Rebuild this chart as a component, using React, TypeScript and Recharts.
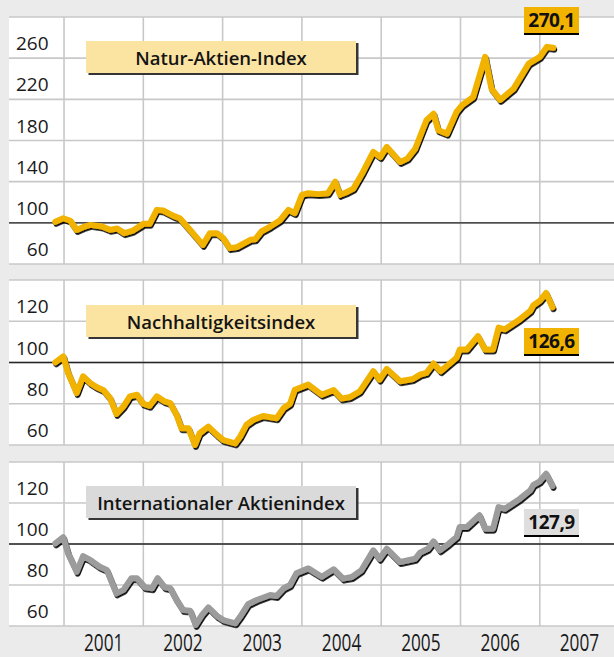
import React from 'react';
import { LineChart, Line, XAxis, YAxis, CartesianGrid, ReferenceLine } from 'recharts';

// year boundaries (grid) and mid-year label positions
const yearStarts = [2001, 2002, 2003, 2004, 2005, 2006, 2007];
const yearMids = [2001.5, 2002.5, 2003.5, 2004.5, 2005.5, 2006.5, 2007.5];

const naturDates = [2000.89, 2000.99, 2001.08, 2001.16, 2001.24, 2001.33, 2001.48, 2001.58, 2001.67, 2001.76, 2001.87, 2002.0, 2002.08, 2002.17, 2002.25, 2002.38, 2002.46, 2002.59, 2002.75, 2002.84, 2002.93, 2003.01, 2003.09, 2003.18, 2003.35, 2003.41, 2003.49, 2003.6, 2003.72, 2003.83, 2003.91, 2004.0, 2004.08, 2004.21, 2004.33, 2004.42, 2004.48, 2004.57, 2004.65, 2004.77, 2004.9, 2004.99, 2005.07, 2005.24, 2005.33, 2005.43, 2005.57, 2005.66, 2005.72, 2005.83, 2005.95, 2006.02, 2006.16, 2006.31, 2006.39, 2006.5, 2006.67, 2006.86, 2007.0, 2007.09, 2007.17];
const naturValues = [101, 104.5, 102, 93, 95.8, 98, 96.4, 93.2, 94.5, 90, 92.5, 99, 99, 112.6, 112, 106.8, 104.5, 93, 78.6, 90, 90, 85, 75.4, 76.4, 83.5, 84, 91.6, 96.4, 102.2, 112.6, 109.4, 127.2, 128.8, 127.9, 128.8, 140, 127.2, 130, 133.3, 149.5, 169, 164, 173.8, 159.2, 162.4, 172.2, 199.7, 206, 190, 186.7, 207.8, 214.3, 222.3, 261.2, 230.4, 219.4, 230.4, 254.7, 261.2, 271, 270.1];
const naturTicks = [60, 100, 140, 180, 220, 260];

const nachDates = [2000.89, 2000.99, 2001.05, 2001.16, 2001.24, 2001.33, 2001.41, 2001.5, 2001.58, 2001.66, 2001.75, 2001.83, 2001.92, 2002.0, 2002.08, 2002.17, 2002.27, 2002.34, 2002.42, 2002.48, 2002.57, 2002.65, 2002.71, 2002.82, 2002.93, 2003.01, 2003.16, 2003.22, 2003.3, 2003.39, 2003.51, 2003.68, 2003.77, 2003.85, 2003.91, 2004.08, 2004.25, 2004.4, 2004.5, 2004.61, 2004.73, 2004.9, 2004.98, 2005.07, 2005.24, 2005.4, 2005.49, 2005.57, 2005.66, 2005.75, 2005.85, 2005.95, 2005.99, 2006.08, 2006.22, 2006.31, 2006.41, 2006.48, 2006.56, 2006.75, 2006.88, 2006.92, 2007.0, 2007.08, 2007.16];
const nachValues = [100.1, 103, 95, 85.2, 93.3, 90.1, 88.1, 86.5, 82.8, 75.1, 78.7, 83.6, 84.4, 80, 79, 83.6, 81.1, 80.3, 74.6, 68.1, 68.1, 60, 65.7, 68.9, 64.9, 62.4, 60.8, 64, 69.8, 72.2, 74.1, 73, 77.9, 80, 86.8, 89.3, 84.4, 86.7, 82.5, 83.3, 86, 95.8, 91.7, 96.9, 90.9, 92, 94.1, 95, 99.5, 95.8, 99, 102.3, 106.3, 106.3, 112.8, 106.3, 106.3, 116.9, 116.1, 121, 125, 127.8, 129.9, 133.7, 126.8];

const intlDates = [2000.89, 2000.99, 2001.05, 2001.16, 2001.24, 2001.33, 2001.45, 2001.54, 2001.66, 2001.75, 2001.85, 2001.92, 2002.02, 2002.11, 2002.18, 2002.27, 2002.34, 2002.42, 2002.5, 2002.59, 2002.66, 2002.74, 2002.82, 2002.93, 2003.01, 2003.16, 2003.22, 2003.32, 2003.43, 2003.6, 2003.68, 2003.77, 2003.85, 2003.93, 2004.08, 2004.25, 2004.4, 2004.52, 2004.63, 2004.75, 2004.9, 2004.98, 2005.07, 2005.24, 2005.43, 2005.49, 2005.59, 2005.66, 2005.74, 2005.85, 2005.95, 2005.99, 2006.08, 2006.24, 2006.31, 2006.41, 2006.48, 2006.56, 2006.75, 2006.88, 2006.92, 2007.0, 2007.08, 2007.16];
const intlValues = [100.3, 103.3, 95.5, 86.5, 94.1, 92.2, 88.9, 87.3, 75.9, 77.6, 83.3, 83.3, 78.9, 78.4, 83.3, 78.9, 78.4, 72.7, 67.8, 67.5, 60.5, 65.4, 69.1, 64.9, 62.9, 61.3, 64.5, 70.6, 72.7, 75.1, 74.6, 78.4, 80, 85.7, 88.1, 84, 87.7, 83.1, 83.9, 87.2, 96.9, 92.8, 97.7, 91.2, 92.8, 95.8, 97.7, 101.3, 96.9, 100.1, 103.4, 108.3, 108.3, 114, 107.5, 107.5, 118, 117.2, 122.1, 126.2, 128.9, 130.6, 134.3, 128.3];
const smallTicks = [60, 80, 100, 120];

const toRows = (dates: number[], values: number[]) => dates.map((t, i) => ({ t, v: values[i] }));

const X_DOMAIN = [2000.306, 2007.936];
const ORANGE = '#f2b300';
const GRAY_LINE = '#9c9c9c';

const ValueTick = (props: any) => {
  const { y, payload } = props;
  return (
    <text x={48.5} y={y - 8} textAnchor="end" fontFamily="Open Sans" fontSize={19} fill="#1a1a1a">
      {payload.value}
    </text>
  );
};

const YearTick = (props: any) => {
  const { x, y, payload } = props;
  return (
    <text
      transform={`translate(${x},${y + 17}) scale(0.75,1)`}
      textAnchor="middle"
      fontFamily="Open Sans"
      fontSize={23}
      fill="#1a1a1a"
    >
      {String(Math.floor(payload.value))}
    </text>
  );
};

function Panel({ data, color, ticks, domain, height, margin, showX }: any) {
  return (
    <LineChart width={614} height={height} data={data} margin={margin}>
      <CartesianGrid fill="#fff" stroke="#c8c8c8" strokeWidth={1.6} verticalValues={yearStarts} />
      <XAxis
        dataKey="t"
        type="number"
        domain={X_DOMAIN}
        ticks={yearMids}
        interval={0}
        hide={!showX}
        height={31}
        axisLine={false}
        tickLine={false}
        tick={<YearTick />}
      />
      <YAxis type="number" domain={domain} ticks={ticks} interval={0} mirror axisLine={false} tickLine={false} tick={<ValueTick />} />
      <ReferenceLine y={100} stroke="#262626" strokeWidth={1.4} />
      <Line
        type="linear"
        dataKey="v"
        stroke={color}
        strokeWidth={6}
        strokeLinejoin="round"
        strokeLinecap="round"
        dot={false}
        activeDot={false}
        filter="url(#lineShadow)"
        isAnimationActive={false}
      />
    </LineChart>
  );
}

const titleBox = (top: number, bg: string): React.CSSProperties => ({
  position: 'absolute',
  left: 86,
  top,
  width: 270,
  height: 32,
  background: bg,
  boxShadow: '2.5px 2px 0 #353535',
  display: 'flex',
  alignItems: 'center',
  justifyContent: 'center',
  fontFamily: 'Open Sans',
  fontWeight: 600,
  fontSize: 18.5,
  color: '#141414',
});

const valueBox = (top: number, bg: string): React.CSSProperties => ({
  position: 'absolute',
  left: 524,
  top,
  width: 55,
  height: 26,
  background: bg,
  borderBottom: '2px solid #000',
  display: 'flex',
  alignItems: 'center',
  justifyContent: 'center',
  fontFamily: 'Open Sans',
  fontWeight: 700,
  fontSize: 19,
  letterSpacing: -0.5,
  color: '#111',
});

export default function App() {
  return (
    <div style={{ position: 'absolute', left: 0, top: 0, width: 614, height: 657, background: '#ebebeb', overflow: 'hidden' }}>
      <svg width={0} height={0} style={{ position: 'absolute' }}>
        <defs>
          <filter id="lineShadow" x="-5%" y="-10%" width="110%" height="130%">
            <feDropShadow dx={1} dy={1.8} stdDeviation={0.35} floodColor="#000" floodOpacity={0.95} />
          </filter>
        </defs>
      </svg>

      <div style={{ position: 'absolute', left: 0, top: 0 }}>
        <Panel
          data={toRows(naturDates, naturValues)}
          color={ORANGE}
          ticks={naturTicks}
          domain={[60, 300]}
          height={272}
          margin={{ top: 17, right: 0, bottom: 8, left: 9 }}
          showX={false}
        />
      </div>
      <div style={{ position: 'absolute', left: 0, top: 272 }}>
        <Panel
          data={toRows(nachDates, nachValues)}
          color={ORANGE}
          ticks={smallTicks}
          domain={[60, 140]}
          height={180}
          margin={{ top: 8, right: 0, bottom: 7, left: 9 }}
          showX={false}
        />
      </div>
      <div style={{ position: 'absolute', left: 0, top: 452 }}>
        <Panel
          data={toRows(intlDates, intlValues)}
          color={GRAY_LINE}
          ticks={smallTicks}
          domain={[60, 140]}
          height={205}
          margin={{ top: 10, right: 0, bottom: 0, left: 9 }}
          showX
        />
      </div>

      <div style={titleBox(41, '#fbe3a2')}>Natur-Aktien-Index</div>
      <div style={titleBox(305, '#fbe3a2')}>Nachhaltigkeitsindex</div>
      <div style={titleBox(486, '#dadada')}>Internationaler Aktienindex</div>

      <div style={valueBox(7, ORANGE)}>270,1</div>
      <div style={valueBox(328, ORANGE)}>126,6</div>
      <div style={valueBox(509, '#dedede')}>127,9</div>
    </div>
  );
}
